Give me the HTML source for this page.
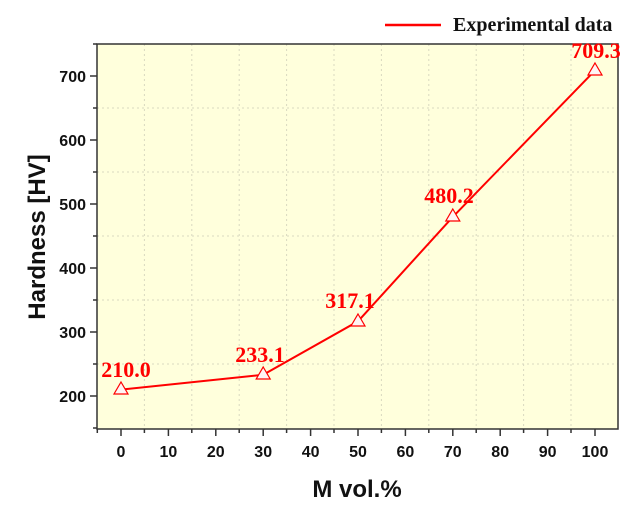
<!DOCTYPE html>
<html><head><meta charset="utf-8"><style>body{margin:0;background:#fff}</style></head><body>
<svg width="637" height="511" xmlns="http://www.w3.org/2000/svg" font-family="Liberation Sans, sans-serif">
<rect x="97" y="44" width="521" height="385" fill="#ffffdc"/>
<g stroke="#d8d8c0" stroke-width="1" stroke-dasharray="2,3">
<line x1="144.4" y1="44" x2="144.4" y2="429"/><line x1="191.8" y1="44" x2="191.8" y2="429"/><line x1="239.2" y1="44" x2="239.2" y2="429"/><line x1="286.6" y1="44" x2="286.6" y2="429"/><line x1="334" y1="44" x2="334" y2="429"/><line x1="381.4" y1="44" x2="381.4" y2="429"/><line x1="428.8" y1="44" x2="428.8" y2="429"/><line x1="476.2" y1="44" x2="476.2" y2="429"/><line x1="523.6" y1="44" x2="523.6" y2="429"/><line x1="571" y1="44" x2="571" y2="429"/>
<line x1="97" y1="108" x2="618" y2="108"/><line x1="97" y1="172" x2="618" y2="172"/><line x1="97" y1="236" x2="618" y2="236"/><line x1="97" y1="300" x2="618" y2="300"/><line x1="97" y1="364" x2="618" y2="364"/>
</g>
<rect x="97" y="44" width="521" height="385" fill="none" stroke="#333" stroke-width="1.5"/>
<g stroke="#333" stroke-width="1.5">
<line x1="90" y1="76" x2="97" y2="76"/><line x1="90" y1="140" x2="97" y2="140"/><line x1="90" y1="204" x2="97" y2="204"/><line x1="90" y1="268" x2="97" y2="268"/><line x1="90" y1="332" x2="97" y2="332"/><line x1="90" y1="396" x2="97" y2="396"/>
<line x1="93" y1="108" x2="97" y2="108"/><line x1="93" y1="172" x2="97" y2="172"/><line x1="93" y1="236" x2="97" y2="236"/><line x1="93" y1="300" x2="97" y2="300"/><line x1="93" y1="364" x2="97" y2="364"/><line x1="93" y1="44" x2="97" y2="44"/><line x1="93" y1="428" x2="97" y2="428"/>
<line x1="121" y1="429" x2="121" y2="436"/><line x1="168.4" y1="429" x2="168.4" y2="436"/><line x1="215.8" y1="429" x2="215.8" y2="436"/><line x1="263.2" y1="429" x2="263.2" y2="436"/><line x1="310.6" y1="429" x2="310.6" y2="436"/><line x1="358" y1="429" x2="358" y2="436"/><line x1="405.4" y1="429" x2="405.4" y2="436"/><line x1="452.8" y1="429" x2="452.8" y2="436"/><line x1="500.2" y1="429" x2="500.2" y2="436"/><line x1="547.6" y1="429" x2="547.6" y2="436"/><line x1="595" y1="429" x2="595" y2="436"/>
<line x1="144.4" y1="429" x2="144.4" y2="433"/><line x1="191.8" y1="429" x2="191.8" y2="433"/><line x1="239.2" y1="429" x2="239.2" y2="433"/><line x1="286.6" y1="429" x2="286.6" y2="433"/><line x1="334" y1="429" x2="334" y2="433"/><line x1="381.4" y1="429" x2="381.4" y2="433"/><line x1="428.8" y1="429" x2="428.8" y2="433"/><line x1="476.2" y1="429" x2="476.2" y2="433"/><line x1="523.6" y1="429" x2="523.6" y2="433"/><line x1="571" y1="429" x2="571" y2="433"/><line x1="97.3" y1="429" x2="97.3" y2="433"/>
</g>
<g font-size="16" font-weight="bold" text-anchor="end" fill="#111">
<text x="86" y="82">700</text><text x="86" y="146">600</text><text x="86" y="210">500</text><text x="86" y="274">400</text><text x="86" y="338">300</text><text x="86" y="402">200</text>
</g>
<g font-size="16" font-weight="bold" text-anchor="middle" fill="#111">
<text x="121" y="457">0</text><text x="168.4" y="457">10</text><text x="215.8" y="457">20</text><text x="263.2" y="457">30</text><text x="310.6" y="457">40</text><text x="358" y="457">50</text><text x="405.4" y="457">60</text><text x="452.8" y="457">70</text><text x="500.2" y="457">80</text><text x="547.6" y="457">90</text><text x="595" y="457">100</text>
</g>
<text x="357" y="497" font-size="24" font-weight="bold" text-anchor="middle" fill="#111">M vol.%</text>
<text transform="translate(45,237) rotate(-90)" font-size="24" font-weight="bold" text-anchor="middle" fill="#111">Hardness [HV]</text>
<polyline points="121,389.6 263.2,374.8 358,321.3 452.8,216.9 595,70.4" fill="none" stroke="#f00" stroke-width="2"/>
<g fill="#fff5f5" stroke="#f00" stroke-width="1.2">
<polygon points="121,382 128,394 114,394"/><polygon points="263.2,367 270.2,379 256.2,379"/><polygon points="358,314 365,326 351,326"/><polygon points="452.8,209 459.8,221 445.8,221"/><polygon points="595,63 602,75 588,75"/>
</g>
<g font-family="Liberation Serif, serif" font-size="22" font-weight="bold" fill="#f00" text-anchor="middle">
<text x="126" y="377">210.0</text><text x="260" y="362">233.1</text><text x="350" y="308">317.1</text><text x="449" y="203">480.2</text><text x="596" y="58">709.3</text>
</g>
<line x1="385" y1="25" x2="441" y2="25" stroke="#f00" stroke-width="2.5"/>
<text x="453" y="31" font-family="Liberation Serif, serif" font-size="20" font-weight="bold" fill="#111">Experimental data</text>
</svg>
</body></html>
